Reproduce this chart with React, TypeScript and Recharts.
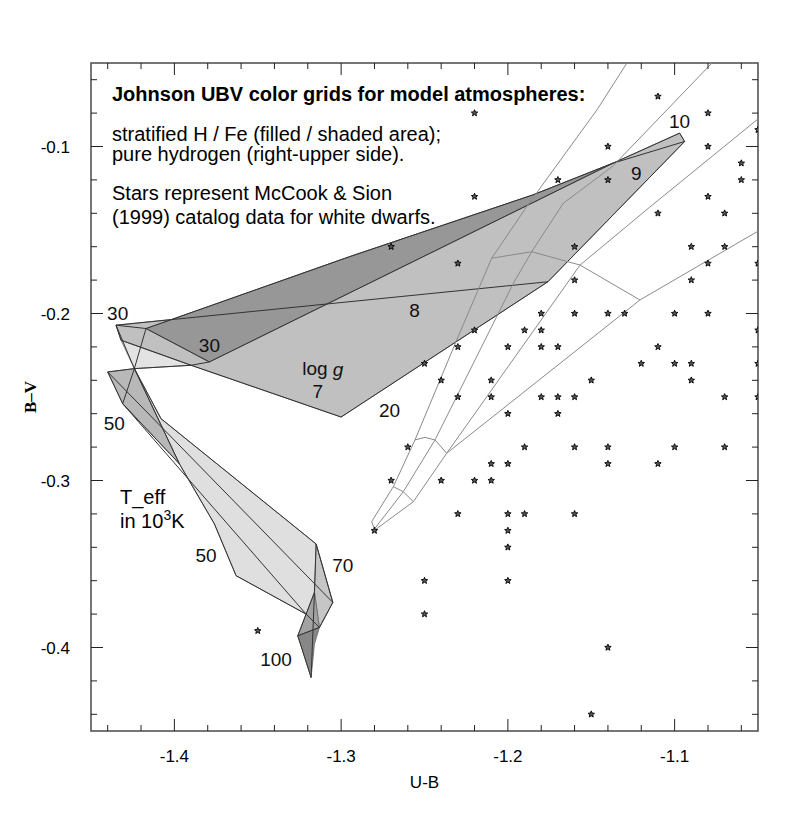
import React from "react";
import { ScatterChart, Scatter, XAxis, YAxis, ReferenceArea } from "recharts";

const FONT = '"Liberation Sans", Arial, Helvetica, sans-serif';

// axis ticks
const xMajorTicks = [-1.4, -1.3, -1.2, -1.1];
const yMajorTicks = [-0.4, -0.3, -0.2, -0.1];
const xMinorTicks = [-1.44, -1.42, -1.38, -1.36, -1.34, -1.32, -1.28, -1.26, -1.24, -1.22, -1.18, -1.16, -1.14, -1.12, -1.08, -1.06];
const yMinorTicks = [-0.44, -0.42, -0.38, -0.36, -0.34, -0.32, -0.28, -0.26, -0.24, -0.22, -0.18, -0.16, -0.14, -0.12, -0.08, -0.06];

// McCook & Sion white dwarfs [U-B, B-V]
const catalogStars = [
  [-1.11, -0.07],
  [-1.22, -0.08], [-1.08, -0.08],
  [-1.05, -0.09],
  [-1.14, -0.1], [-1.08, -0.1],
  [-1.06, -0.11],
  [-1.17, -0.12], [-1.14, -0.12], [-1.06, -0.12],
  [-1.22, -0.13], [-1.08, -0.13],
  [-1.11, -0.14], [-1.07, -0.14],
  [-1.27, -0.16], [-1.16, -0.16], [-1.09, -0.16], [-1.07, -0.16],
  [-1.23, -0.17], [-1.08, -0.17], [-1.05, -0.17],
  [-1.16, -0.18], [-1.09, -0.18],
  [-1.18, -0.2], [-1.16, -0.2], [-1.14, -0.2], [-1.13, -0.2], [-1.1, -0.2], [-1.08, -0.2],
  [-1.22, -0.21], [-1.19, -0.21], [-1.18, -0.21], [-1.05, -0.21],
  [-1.23, -0.22], [-1.2, -0.22], [-1.18, -0.22], [-1.17, -0.22], [-1.11, -0.22],
  [-1.25, -0.23], [-1.12, -0.23], [-1.1, -0.23], [-1.09, -0.23], [-1.05, -0.23],
  [-1.24, -0.24], [-1.21, -0.24], [-1.15, -0.24], [-1.09, -0.24],
  [-1.23, -0.25], [-1.21, -0.25], [-1.18, -0.25], [-1.17, -0.25], [-1.16, -0.25], [-1.07, -0.25], [-1.05, -0.25],
  [-1.2, -0.26], [-1.17, -0.26],
  [-1.26, -0.28], [-1.19, -0.28], [-1.16, -0.28], [-1.14, -0.28], [-1.1, -0.28], [-1.07, -0.28],
  [-1.21, -0.29], [-1.2, -0.29], [-1.14, -0.29], [-1.11, -0.29],
  [-1.27, -0.3], [-1.24, -0.3], [-1.22, -0.3], [-1.21, -0.3],
  [-1.23, -0.32], [-1.2, -0.32], [-1.19, -0.32], [-1.16, -0.32],
  [-1.28, -0.33], [-1.2, -0.33],
  [-1.2, -0.34],
  [-1.25, -0.36], [-1.2, -0.36],
  [-1.25, -0.38],
  [-1.35, -0.39],
  [-1.14, -0.4],
  [-1.15, -0.44],
];

// stratified H/Fe grid: upper sheet (log g 7..10, Teff 20..30)
const upperSheet = [
  [-1.435, -0.207], [-1.401, -0.2035], [-1.295, -0.166], [-1.185, -0.129], [-1.137, -0.11],
  [-1.097, -0.092], [-1.094, -0.097], [-1.176, -0.181], [-1.3, -0.262], [-1.39, -0.231], [-1.432, -0.216],
];
const upperDark = [[-1.417, -0.209], [-1.295, -0.166], [-1.185, -0.129], [-1.137, -0.11], [-1.379, -0.229]];
const upperPale = [[-1.432, -0.216], [-1.39, -0.231], [-1.424, -0.233]];

// lower sheet (Teff 30..100)
const lowerPale = [
  [-1.424, -0.233], [-1.408, -0.263], [-1.315, -0.338], [-1.305, -0.373], [-1.313, -0.388],
  [-1.321, -0.38], [-1.363, -0.357], [-1.376, -0.326], [-1.397, -0.29],
];
const lowerMid = [[-1.44, -0.235], [-1.424, -0.233], [-1.397, -0.29], [-1.431, -0.254]];
const lowerStrip = [[-1.315, -0.338], [-1.305, -0.373], [-1.313, -0.388], [-1.316, -0.367]];
const lowerDarkA = [[-1.316, -0.367], [-1.326, -0.393], [-1.313, -0.388]];
const lowerDarkB = [[-1.326, -0.393], [-1.318, -0.418], [-1.316, -0.398], [-1.313, -0.388]];

// grid lines of the stratified models
const gridLines = [
  [[-1.435, -0.207], [-1.176, -0.181]],
  [[-1.417, -0.209], [-1.295, -0.166], [-1.185, -0.129], [-1.137, -0.11], [-1.097, -0.092]],
  [[-1.379, -0.229], [-1.137, -0.11], [-1.094, -0.097]],
  [[-1.432, -0.216], [-1.39, -0.231], [-1.3, -0.262]],
  [[-1.097, -0.092], [-1.094, -0.097], [-1.176, -0.181], [-1.3, -0.262]],
  [[-1.417, -0.209], [-1.435, -0.207], [-1.432, -0.216]],
  [[-1.417, -0.209], [-1.379, -0.229]],
  [[-1.44, -0.235], [-1.424, -0.233], [-1.39, -0.231], [-1.379, -0.229]],
  [[-1.435, -0.207], [-1.424, -0.233], [-1.397, -0.29], [-1.376, -0.326], [-1.363, -0.357], [-1.321, -0.38], [-1.313, -0.388]],
  [[-1.424, -0.233], [-1.408, -0.263], [-1.315, -0.338], [-1.305, -0.373], [-1.313, -0.388]],
  [[-1.417, -0.209], [-1.424, -0.233], [-1.431, -0.254]],
  [[-1.44, -0.235], [-1.431, -0.254], [-1.397, -0.29]],
  [[-1.44, -0.235], [-1.305, -0.373]],
  [[-1.431, -0.254], [-1.321, -0.38]],
  [[-1.315, -0.338], [-1.316, -0.367], [-1.318, -0.418]],
  [[-1.316, -0.367], [-1.326, -0.393], [-1.318, -0.418]],
  [[-1.326, -0.393], [-1.313, -0.388]],
];

// pure hydrogen grid
const pureHLines = [
  [[-1.2817, -0.3247], [-1.2687, -0.3037], [-1.2557, -0.2757], [-1.2307, -0.2159], [-1.2097, -0.1669], [-1.1887, -0.136], [-1.1466, -0.0781], [-1.1286, -0.05]],
  [[-1.2797, -0.3286], [-1.2627, -0.3067], [-1.2437, -0.2757], [-1.1967, -0.1819], [-1.1857, -0.163], [-1.1668, -0.134], [-1.137, -0.1117], [-1.0776, -0.05]],
  [[-1.2797, -0.3296], [-1.2567, -0.3127], [-1.2367, -0.2837], [-1.1567, -0.171], [-1.1148, -0.1362], [-1.05, -0.0835]],
  [[-1.2367, -0.2837], [-1.1208, -0.1919], [-1.05, -0.1507]],
  [[-1.2817, -0.3247], [-1.2797, -0.3296]],
  [[-1.2687, -0.3037], [-1.2627, -0.3067], [-1.2567, -0.3127]],
  [[-1.2557, -0.2757], [-1.2497, -0.2742], [-1.2437, -0.2757], [-1.2367, -0.2837]],
  [[-1.2097, -0.1669], [-1.1857, -0.163], [-1.1567, -0.171], [-1.1208, -0.1919]],
];

// labels on the grids (centred)
const gridLabels = [
  { u: -1.434, v: -0.2, text: "30" },
  { u: -1.379, v: -0.219, text: "30" },
  { u: -1.256, v: -0.198, text: "8" },
  { u: -1.311, v: -0.233, text: "log g" },
  { u: -1.314, v: -0.247, text: "7" },
  { u: -1.271, v: -0.258, text: "20" },
  { u: -1.123, v: -0.116, text: "9" },
  { u: -1.097, v: -0.085, text: "10" },
  { u: -1.436, v: -0.266, text: "50" },
  { u: -1.381, v: -0.345, text: "50" },
  { u: -1.299, v: -0.351, text: "70" },
  { u: -1.339, v: -0.407, text: "100" },
];

// note lines (left aligned, baseline)
const titleLine = [{ u: -1.4374, v: -0.0728, text: "Johnson UBV color grids for model atmospheres:" }];
const noteLines = [
  { u: -1.4374, v: -0.0967, text: "stratified H / Fe (filled / shaded area);" },
  { u: -1.4374, v: -0.1087, text: "pure hydrogen (right-upper side)." },
  { u: -1.4374, v: -0.132, text: "Stars represent McCook & Sion" },
  { u: -1.4374, v: -0.1464, text: "(1999) catalog data for white dwarfs." },
  { u: -1.4326, v: -0.3141, text: "T_eff" },
  { u: -1.4326, v: -0.3284, text: "in 10³K" },
];

const toPts = (arr: number[][]) => arr.map(([u, v]) => ({ u, v }));
const fmt = (v: number) => v.toFixed(1);
const Hidden = () => <g />;

const fillShape = (fill: string) => (props: any) => {
  const pts = props.points || [];
  return (
    <polygon
      points={pts.map((p: any) => `${p.x},${p.y}`).join(" ")}
      fill={fill}
      stroke="#6a6a6a"
      strokeWidth={0.8}
      strokeLinejoin="round"
    />
  );
};

const strokeShape = (stroke: string, width: number) => (props: any) => {
  const pts = props.points || [];
  return (
    <polyline
      points={pts.map((p: any) => `${p.x},${p.y}`).join(" ")}
      fill="none"
      stroke={stroke}
      strokeWidth={width}
      strokeLinejoin="round"
    />
  );
};

const tickShape = (dx: number, dy: number) => (p: any) => (
  <line x1={p.cx} y1={p.cy} x2={p.cx + dx} y2={p.cy + dy} stroke="#222" strokeWidth={1} />
);

const StarMark = (p: any) => {
  const { cx, cy } = p;
  if (cx == null || cy == null) return <g />;
  const pts: string[] = [];
  for (let i = 0; i < 10; i++) {
    const a = -Math.PI / 2 + (i * Math.PI) / 5;
    const r = i % 2 === 0 ? 3.4 : 1.5;
    pts.push(`${(cx + r * Math.cos(a)).toFixed(2)},${(cy + r * Math.sin(a)).toFixed(2)}`);
  }
  return <polygon points={pts.join(" ")} fill="#555" stroke="#000" strokeWidth={0.9} />;
};

const GridText = (p: any) => {
  const text: string = p.payload?.text ?? "";
  const common = { x: p.cx, y: p.cy, textAnchor: "middle" as const, dominantBaseline: "central" as const, fontSize: 19, fontFamily: FONT, fill: "#111" };
  if (text === "log g") {
    return (
      <text {...common}>
        log <tspan fontStyle="italic">g</tspan>
      </text>
    );
  }
  return <text {...common}>{text}</text>;
};

const NoteText = (bold: boolean) => (p: any) => {
  const text: string = p.payload?.text ?? "";
  const common = { x: p.cx, y: p.cy, textAnchor: "start" as const, fontSize: 20, fontFamily: FONT, fill: "#000", fontWeight: bold ? 700 : 400 };
  if (text.includes("³")) {
    const [head, tail] = text.split("³");
    return (
      <text {...common}>
        {head}
        <tspan dy={-8} fontSize={14}>3</tspan>
        <tspan dy={8}>{tail}</tspan>
      </text>
    );
  }
  return <text {...common}>{text}</text>;
};

const XTitle = (p: any) => {
  const vb = p.viewBox || { x: 91, y: 731, width: 667, height: 60 };
  return (
    <text x={vb.x + vb.width / 2} y={vb.y + 57} textAnchor="middle" fontSize={17} fontFamily={FONT} fill="#000">
      U-B
    </text>
  );
};

const YTitle = (p: any) => {
  const vb = p.viewBox || { x: 0, y: 63, width: 91, height: 668 };
  const x = vb.x + 30;
  const y = vb.y + vb.height / 2;
  return (
    <text x={x} y={y} transform={`rotate(-90 ${x} ${y})`} textAnchor="middle" dominantBaseline="central" fontSize={17} fontWeight={700} fontFamily='"Liberation Serif", "Times New Roman", serif' fill="#000">
      B–V
    </text>
  );
};

export default function App() {
  const tickFont = { fontSize: 17, fill: "#000", fontFamily: FONT };
  return (
    <div style={{ position: "absolute", left: 0, top: 0, width: 793, height: 821, background: "#fff" }}>
      <ScatterChart width={793} height={821} margin={{ top: 63, right: 35, bottom: 30, left: 0 }}>
        <XAxis
          type="number"
          dataKey="u"
          domain={[-1.45, -1.05]}
          allowDataOverflow
          ticks={xMajorTicks}
          interval={0}
          tickFormatter={fmt}
          tickLine={false}
          axisLine={false}
          tickSize={0}
          tickMargin={19}
          height={60}
          tick={tickFont}
          label={<XTitle />}
        />
        <YAxis
          type="number"
          dataKey="v"
          domain={[-0.45, -0.05]}
          allowDataOverflow
          ticks={yMajorTicks}
          interval={0}
          tickFormatter={fmt}
          tickLine={false}
          axisLine={false}
          tickSize={0}
          tickMargin={21}
          width={91}
          tick={tickFont}
          label={<YTitle />}
        />

        <Scatter data={toPts(upperSheet)} line={fillShape("#c0c0c0")} shape={Hidden} isAnimationActive={false} />
        <Scatter data={toPts(upperDark)} line={fillShape("#979797")} shape={Hidden} isAnimationActive={false} />
        <Scatter data={toPts(upperPale)} line={fillShape("#e3e3e3")} shape={Hidden} isAnimationActive={false} />
        <Scatter data={toPts(lowerPale)} line={fillShape("#dfdfdf")} shape={Hidden} isAnimationActive={false} />
        <Scatter data={toPts(lowerMid)} line={fillShape("#b8b8b8")} shape={Hidden} isAnimationActive={false} />
        <Scatter data={toPts(lowerStrip)} line={fillShape("#c6c6c6")} shape={Hidden} isAnimationActive={false} />
        <Scatter data={toPts(lowerDarkA)} line={fillShape("#a2a2a2")} shape={Hidden} isAnimationActive={false} />
        <Scatter data={toPts(lowerDarkB)} line={fillShape("#878787")} shape={Hidden} isAnimationActive={false} />

        {gridLines.map((seg, i) => (
          <Scatter key={`g${i}`} data={toPts(seg)} line={strokeShape("#333", 1)} shape={Hidden} isAnimationActive={false} />
        ))}
        {pureHLines.map((seg, i) => (
          <Scatter key={`h${i}`} data={toPts(seg)} line={strokeShape("#8a8a8a", 1)} shape={Hidden} isAnimationActive={false} />
        ))}

        <Scatter data={toPts(catalogStars)} shape={StarMark} isAnimationActive={false} />

        <Scatter data={gridLabels} shape={GridText} isAnimationActive={false} />
        <Scatter data={titleLine} shape={NoteText(true)} isAnimationActive={false} />
        <Scatter data={noteLines} shape={NoteText(false)} isAnimationActive={false} />

        <Scatter data={xMajorTicks.map((u) => ({ u, v: -0.45 }))} shape={tickShape(0, -12)} isAnimationActive={false} />
        <Scatter data={xMinorTicks.map((u) => ({ u, v: -0.45 }))} shape={tickShape(0, -6)} isAnimationActive={false} />
        <Scatter data={xMajorTicks.map((u) => ({ u, v: -0.05 }))} shape={tickShape(0, 12)} isAnimationActive={false} />
        <Scatter data={xMinorTicks.map((u) => ({ u, v: -0.05 }))} shape={tickShape(0, 6)} isAnimationActive={false} />
        <Scatter data={yMajorTicks.map((v) => ({ u: -1.45, v }))} shape={tickShape(12, 0)} isAnimationActive={false} />
        <Scatter data={yMinorTicks.map((v) => ({ u: -1.45, v }))} shape={tickShape(6, 0)} isAnimationActive={false} />
        <Scatter data={yMajorTicks.map((v) => ({ u: -1.05, v }))} shape={tickShape(-12, 0)} isAnimationActive={false} />
        <Scatter data={yMinorTicks.map((v) => ({ u: -1.05, v }))} shape={tickShape(-6, 0)} isAnimationActive={false} />

        <ReferenceArea x1={-1.45} x2={-1.05} y1={-0.45} y2={-0.05} fill="none" stroke="#4a4a4a" strokeWidth={1.5} ifOverflow="visible" />
      </ScatterChart>
    </div>
  );
}
